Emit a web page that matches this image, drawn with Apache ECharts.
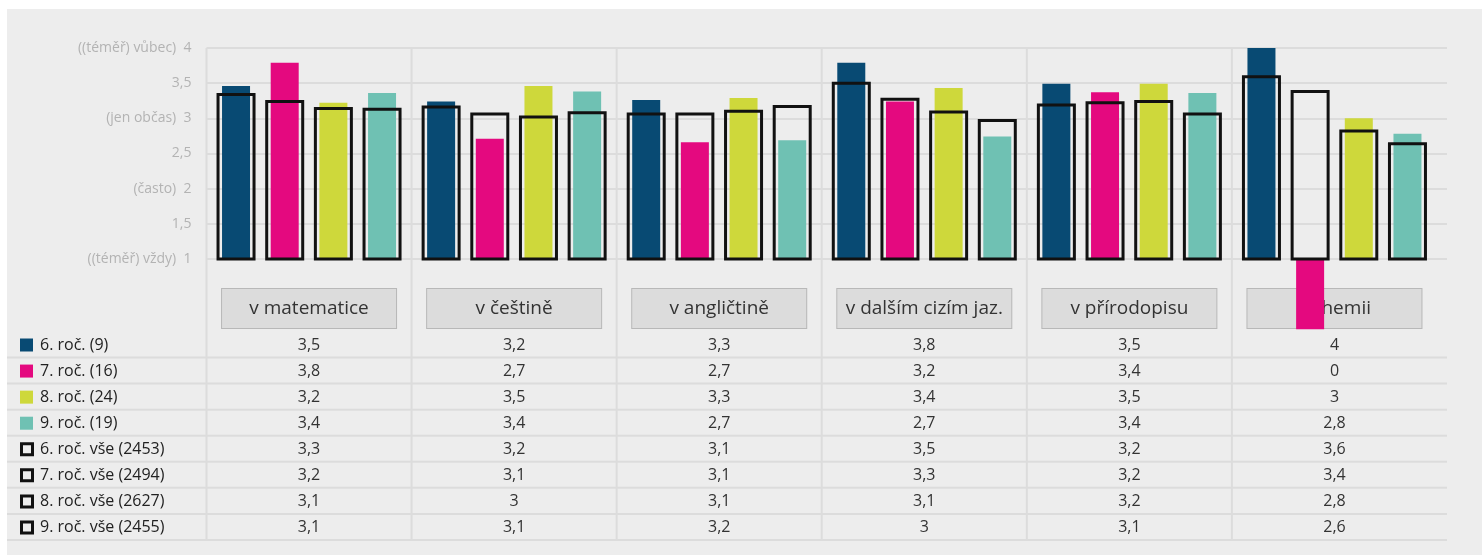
<!DOCTYPE html>
<html>
<head>
<meta charset="utf-8">
<script src="https://cdn.jsdelivr.net/npm/echarts@6/dist/echarts.min.js"></script>
<style>
  html, body { margin: 0; background: #ffffff; }
  #chart { position: absolute; left: 7px; top: 9px; width: 1475px; height: 546px; }
</style>
</head>
<body>
<div id="chart"></div>
<script>
const categories = ['v matematice', 'v češtině', 'v angličtině', 'v dalším cizím jaz.', 'v přírodopisu', 'v chemii'];

const seriesNames = [
  '6. roč. (9)', '7. roč. (16)', '8. roč. (24)', '9. roč. (19)',
  '6. roč. vše (2453)', '7. roč. vše (2494)', '8. roč. vše (2627)', '9. roč. vše (2455)'
];

// school grades
const grade6 = [3.46, 3.24, 3.26, 3.79, 3.49, 4.0];
const grade7 = [3.79, 2.71, 2.66, 3.24, 3.37, 0];
const grade8 = [3.22, 3.46, 3.29, 3.43, 3.49, 3.0];
const grade9 = [3.36, 3.38, 2.69, 2.74, 3.36, 2.78];
// all schools
const all6 = [3.34, 3.16, 3.06, 3.5, 3.19, 3.59];
const all7 = [3.24, 3.06, 3.06, 3.27, 3.22, 3.38];
const all8 = [3.14, 3.02, 3.1, 3.09, 3.24, 2.82];
const all9 = [3.13, 3.08, 3.17, 2.97, 3.06, 2.64];

const yTickValues = [1, 1.5, 2, 2.5, 3, 3.5, 4];
const yTickTexts = ['((téměř) vždy)  1', '1,5', '(často)  2', '2,5', '(jen občas)  3', '3,5', '((téměř) vůbec)  4'];

const filledData = [grade6, grade7, grade8, grade9];
const outlineData = [all6, all7, all8, all9];
const colors = ['#084a73', '#e4097f', '#ced83b', '#6fc1b3'];
const FONT = '"Open Sans", "Noto Sans", sans-serif';
const LINE = '#dcdcdc';
const BASE = 1;       // bars grow from the axis minimum
const STEP = 48.67;   // distance between bar centres in a group

const fmt = v => String(Math.round(v * 10) / 10).replace('.', ',');

const chart = echarts.init(document.getElementById('chart'));

function barSeries(name, d, slot, width, style, z) {
  return {
    name: name,
    type: 'custom',
    xAxisIndex: 0,
    yAxisIndex: 0,
    z: z,
    clip: false,
    data: d.map((v, j) => [j, v]),
    renderItem: (params, api) => {
      const top = api.coord([api.value(0), api.value(1)]);
      const base = api.coord([api.value(0), BASE]);
      const cx = top[0] + (slot - 1.5) * STEP;
      return {
        type: 'rect',
        shape: {
          x: cx - width / 2,
          y: Math.min(top[1], base[1]),
          width: width,
          height: Math.abs(base[1] - top[1])
        },
        style: style
      };
    }
  };
}

const series = [];
filledData.forEach((d, i) => {
  series.push(barSeries(seriesNames[i], d, i, 28, { fill: colors[i] }, 2));
});
outlineData.forEach((d, i) => {
  series.push(barSeries(seriesNames[i + 4], d, i, 36, { fill: 'none', stroke: '#111', lineWidth: 3 }, 3));
});

const option = {
  backgroundColor: '#ededed',
  animation: false,
  textStyle: { fontFamily: FONT },
  grid: [
    { left: 199.5, top: 39, width: 1230.5, height: 211 },
    { left: 199.5, top: 39, width: 1240.5, height: 211 }
  ],
  xAxis: [
    {
      type: 'category', gridIndex: 0, data: categories,
      axisLine: { show: false }, axisTick: { show: false }, splitLine: { show: false },
      axisLabel: {
        interval: 0, margin: 30, fontSize: 19, color: '#333', fontFamily: FONT,
        backgroundColor: '#dcdcdc', borderColor: '#b8b8b8', borderWidth: 1,
        width: 174, height: 39, lineHeight: 39, align: 'center'
      }
    },
    { type: 'value', gridIndex: 1, show: false }
  ],
  yAxis: [
    { type: 'value', gridIndex: 0, min: 1, max: 4, interval: 0.5, show: false },
    {
      type: 'value', gridIndex: 1, min: 1, max: 4, interval: 0.5,
      axisLine: { show: false }, axisTick: { show: false },
      splitLine: { lineStyle: { color: LINE, width: 2 } },
      axisLabel: {
        margin: 15, fontSize: 14, color: '#b3b3b3', fontFamily: FONT,
        formatter: v => {
          const k = yTickValues.indexOf(v);
          return k >= 0 ? yTickTexts[k] : String(v);
        }
      }
    }
  ],
  series: series
};

chart.setOption(option);

// data table under the chart
const centers = categories.map(c => chart.convertToPixel({ xAxisIndex: 0 }, c));
const bw = centers[1] - centers[0];
const rowTop = 336, rowStep = 26.07;
const graphic = [];

centers.forEach(cx => {
  const x = cx - bw / 2;
  graphic.push({ type: 'line', silent: true, shape: { x1: x, y1: 39, x2: x, y2: 531 }, style: { stroke: LINE, lineWidth: 2 } });
});

const rows = filledData.concat(outlineData);
rows.forEach((d, i) => {
  const cy = rowTop + rowStep * i;
  const ly = cy + 12.5;
  graphic.push({ type: 'line', silent: true, shape: { x1: 0, y1: ly, x2: 1440, y2: ly }, style: { stroke: LINE, lineWidth: 2 } });
  if (i < 4) {
    graphic.push({ type: 'rect', silent: true, shape: { x: 13, y: cy - 6.5, width: 13, height: 13 }, style: { fill: colors[i] } });
  } else {
    graphic.push({ type: 'rect', silent: true, shape: { x: 14.5, y: cy - 5.5, width: 11, height: 11 }, style: { fill: 'none', stroke: '#111', lineWidth: 3 } });
  }
  graphic.push({
    type: 'text', silent: true, x: 33, y: cy,
    style: { text: seriesNames[i], fontSize: 16, fontFamily: FONT, fill: '#222', verticalAlign: 'middle' }
  });
  d.forEach((v, j) => {
    graphic.push({
      type: 'text', silent: true, x: centers[j], y: cy,
      style: { text: fmt(v), fontSize: 16, fontFamily: FONT, fill: '#333', align: 'center', verticalAlign: 'middle' }
    });
  });
});

chart.setOption({ graphic: graphic });
</script>
</body>
</html>
